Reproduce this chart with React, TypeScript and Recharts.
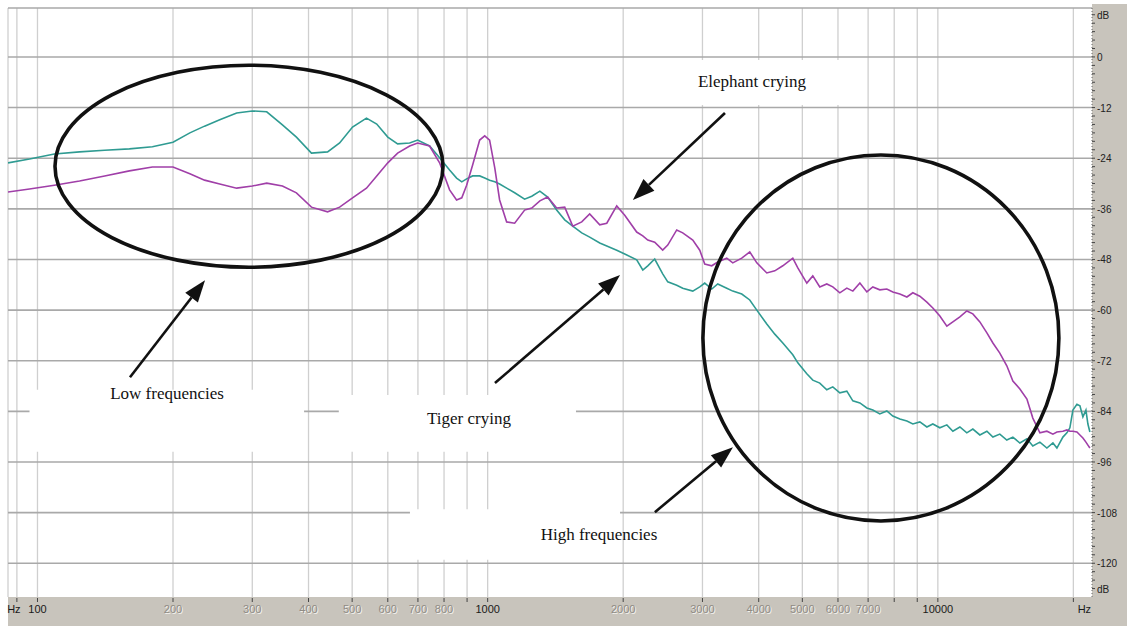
import {
    LineChart, Line, XAxis, YAxis, CartesianGrid,
    ReferenceArea, ReferenceDot, ReferenceLine
} from "recharts";

// frequency (Hz) of each sample
const freq = [
    86, 96, 109, 124, 141, 160, 180, 200, 218, 235,
    254, 277, 300, 323, 350, 376, 406, 441, 469, 501,
    538, 567, 600, 631, 671, 699, 743, 782, 823, 853,
    876, 898, 926, 960, 985, 1010, 1037, 1063, 1102, 1148,
    1208, 1253, 1306, 1359, 1423, 1483, 1545, 1618, 1685, 1774,
    1839, 1935, 2016, 2143, 2211, 2268, 2350, 2448, 2512, 2630,
    2712, 2855, 2959, 3035, 3146, 3244, 3397, 3503, 3668, 3821,
    3961, 4169, 4343, 4525, 4762, 4886, 5116, 5275, 5467, 5666,
    5843, 6057, 6278, 6474, 6711, 6955, 7171, 7431, 7703, 7943,
    8234, 8535, 8799, 9120, 9454, 9747, 10103, 10471, 10798, 11193,
    11597, 11960, 12397, 12851, 13253, 13729, 14229, 14678, 15214, 15770,
    16255, 16853, 17467, 18014, 18385, 18958, 19349, 19648, 19953, 20366,
    20682, 21000, 21327, 21544, 21765
];

// teal curve (dB)
const tiger = [
    -25.1, -24.2, -23.0, -22.5, -22.1, -21.8, -21.3, -20.2, -18.0, -16.4,
    -14.9, -13.3, -12.8, -13.0, -16.1, -19.0, -22.8, -22.5, -20.4, -16.6,
    -14.5, -15.9, -19.0, -20.6, -20.4, -19.7, -21.1, -23.9, -26.8, -28.7,
    -29.6, -28.9, -28.2, -28.2, -28.7, -29.2, -29.6, -30.1, -31.1, -32.2,
    -33.7, -33.0, -31.8, -33.2, -36.3, -38.6, -40.1, -41.7, -42.7, -44.1,
    -44.8, -45.8, -46.7, -48.1, -50.5, -49.5, -47.9, -51.4, -53.3, -54.1,
    -54.8, -55.5, -54.5, -53.6, -55.0, -53.8, -54.8, -55.5, -56.2, -57.6,
    -60.0, -63.3, -65.7, -67.8, -70.6, -72.5, -75.1, -76.6, -77.3, -78.9,
    -78.2, -79.6, -79.2, -81.5, -82.0, -83.2, -83.7, -84.6, -83.9, -85.1,
    -85.8, -86.3, -87.0, -86.5, -87.7, -87.0, -87.9, -87.2, -88.7, -87.7,
    -89.1, -88.2, -89.6, -88.7, -90.1, -89.4, -90.8, -90.1, -91.5, -90.5,
    -92.2, -91.3, -92.7, -91.5, -92.7, -90.1, -89.1, -87.9, -83.7, -82.3,
    -82.7, -85.3, -83.7, -87.0, -88.9
];

// purple curve (dB)
const elephant = [
    -32.0, -31.3, -30.4, -29.4, -28.2, -27.0, -26.1, -26.1, -27.7, -29.2,
    -30.1, -31.1, -30.6, -29.9, -30.6, -32.2, -35.6, -36.7, -35.6, -33.4,
    -31.1, -28.2, -25.1, -22.8, -21.1, -20.4, -21.1, -25.1, -31.5, -33.9,
    -33.4, -30.4, -25.6, -19.7, -18.7, -19.7, -26.3, -33.9, -39.1, -39.4,
    -36.3, -35.8, -34.1, -33.2, -35.8, -35.6, -40.1, -39.1, -37.2, -39.8,
    -39.4, -35.3, -37.5, -41.5, -42.4, -43.4, -43.9, -45.8, -44.6, -41.0,
    -41.7, -43.4, -45.8, -49.1, -49.5, -48.6, -47.7, -48.8, -47.7, -46.2,
    -48.8, -51.2, -50.7, -49.5, -47.7, -50.0, -53.6, -51.9, -54.5, -53.8,
    -54.5, -55.9, -54.8, -55.5, -53.6, -55.7, -54.5, -55.2, -55.0, -55.7,
    -56.2, -56.9, -55.9, -56.7, -58.1, -59.5, -61.4, -63.8, -62.8, -61.6,
    -60.2, -60.9, -62.8, -65.4, -67.8, -70.2, -73.2, -76.8, -78.7, -81.1,
    -85.6, -89.1, -88.7, -89.4, -88.9, -88.7, -88.4, -88.7, -88.7, -88.9,
    -89.6, -90.3, -91.3, -92.0, -92.7
];

const xTicks = [90, 100, 200, 300, 400, 500, 600, 700, 800, 900, 1000, 2000, 3000, 4000, 5000, 6000, 7000, 8000, 9000, 10000, 20000];
const xTickLabels: Record<number, string> = {
    90: "Hz", 100: "100", 200: "200", 300: "300", 400: "400", 500: "500", 600: "600", 700: "700", 800: "800",
    1000: "1000", 2000: "2000", 3000: "3000", 4000: "4000", 5000: "5000", 6000: "6000", 7000: "7000",
    10000: "10000", 20000: "Hz"
};
const darkLabels = [90, 100, 1000, 10000, 20000];
const dbGrid = [0, -12, -24, -36, -48, -60, -72, -84, -96, -108, -120];
const dbMinor = Array.from({ length: 69 }, (_, i) => 10 - i * 2);

// annotations, in data units (Hz, dB)
const notes = [
    { text: "Elephant crying", f: 3865, db: -5.9 },
    { text: "Low frequencies", f: 194, db: -79.7 },
    { text: "Tiger crying", f: 909, db: -85.6 },
    { text: "High frequencies", f: 1767, db: -113.3 },
];
const arrows = [
    { f1: 3366, db1: -13.3, f2: 2102, db2: -33.9 },
    { f1: 1038, db1: -77.3, f2: 1968, db2: -51.7 },
    { f1: 160.5, db1: -75.9, f2: 235.6, db2: -52.9 },
    { f1: 2352, db1: -107.9, f2: 3506, db2: -92.5 },
];
const whiteBoxes = [
    { f1: 96, f2: 391, db1: -78.9, db2: -93.6 },
    { f1: 467, f2: 1571, db1: -80.1, db2: -93.6 },
    { f1: 672, f2: 1968, db1: -107.2, db2: -119.2 },
    { f1: 2102, f2: 6958, db1: -0.7, db2: -11.4 },
];

const data = freq.map((f, i) => ({ f, tiger: tiger[i], elephant: elephant[i] }));

const GRAY = "#c8c4bc";
const sans = "'Liberation Sans', Arial, sans-serif";
const serif = "'Liberation Serif', 'Times New Roman', serif";

function FreqTick({ x, y, payload }: any) {
    const v = payload.value;
    const lab = xTickLabels[v];
    const dx = v === 20000 ? 11 : v === 90 ? -3 : 0;
    const dark = darkLabels.includes(v);
    return (
        <g>
            <line x1={x} x2={x} y1={y + 1} y2={y + 5} stroke="#444" strokeWidth={1} />
            {lab && dark && (
                <text x={x + dx} y={y + 16} textAnchor="middle" fontSize={11} fontFamily={sans} fill="#1a1a1a">{lab}</text>
            )}
            {lab && !dark && (
                <g>
                    <text x={x + 1} y={y + 17} textAnchor="middle" fontSize={11} fontFamily={sans} fill="#f4f2ee">{lab}</text>
                    <text x={x} y={y + 16} textAnchor="middle" fontSize={11} fontFamily={sans} fill="#8f8b84">{lab}</text>
                </g>
            )}
        </g>
    );
}

function DbTick({ x, y, payload }: any) {
    const v = payload.value;
    const lab = v === 10 || v === -126 ? "dB" : v % 12 === 0 ? String(v) : null;
    return (
        <g>
            <line x1={x} x2={x + 3} y1={y} y2={y} stroke="#444" strokeWidth={1} />
            {lab && <text x={x + 5} y={y + 4} fontSize={10} fontFamily={sans} fill="#222">{lab}</text>}
        </g>
    );
}

function Arrow(props: any) {
    const { x1, y1, x2, y2 } = props;
    const a = Math.atan2(y2 - y1, x2 - x1);
    const L = 22, W = 8;
    const bx = x2 - L * Math.cos(a), by = y2 - L * Math.sin(a);
    const px = -Math.sin(a) * W, py = Math.cos(a) * W;
    return (
        <g>
            <line x1={x1} y1={y1} x2={bx} y2={by} stroke="#111" strokeWidth={2.6} />
            <polygon points={`${x2},${y2} ${bx + px},${by + py} ${bx - px},${by - py}`} fill="#111" />
        </g>
    );
}

const ring = (rx: number, ry: number) => (p: any) => (
    <ellipse cx={p.cx} cy={p.cy} rx={rx} ry={ry} fill="none" stroke="#111" strokeWidth={3.6} />
);

const noteShape = (text: string) => (p: any) => (
    <text x={p.cx} y={p.cy} textAnchor="middle" dominantBaseline="central" fontSize={17} fontFamily={serif} fill="#111">{text}</text>
);

export default function App() {
    return (
        <div style={{ position: 'absolute', left: 0, top: 0, width: 1127, height: 626, background: 'white', overflow: 'hidden' }}>
            <div style={{ position: 'absolute', left: 8, top: 597, width: 1119, height: 29, background: GRAY }} />
            <div style={{ position: 'absolute', left: 1092, top: 4, width: 35, height: 622, background: GRAY }} />
            <div style={{ position: 'absolute', left: 0, top: 0 }}>
                <LineChart width={1127} height={626} data={data} margin={{ top: 8, right: 0, bottom: 0, left: 8 }}>
                    <CartesianGrid horizontal={false} verticalValues={[86, ...xTicks]} stroke="#cfcfcf" strokeWidth={1.3} />
                    <CartesianGrid vertical={false} horizontalValues={[11.6, ...dbGrid]} stroke="#a9a9a9" strokeWidth={1.6} />
                    <XAxis dataKey="f" type="number" scale="log" domain={[86, 22000]} allowDataOverflow
                        ticks={xTicks} interval={0} tick={<FreqTick />} tickLine={false} axisLine={false}
                        tickSize={0} tickMargin={0} height={29} />
                    <YAxis orientation="right" type="number" domain={[-128, 11.6]} allowDataOverflow
                        ticks={dbMinor} interval={0} tick={<DbTick />} tickLine={false}
                        axisLine={{ stroke: '#666', strokeDasharray: '1 2' }} tickSize={0} tickMargin={0} width={35} />
                    {whiteBoxes.map((b, i) => (
                        <ReferenceArea key={'b' + i} x1={b.f1} x2={b.f2} y1={b.db1} y2={b.db2} fill="#fff" fillOpacity={1} stroke="none" />
                    ))}
                    <Line dataKey="tiger" stroke="#2f9b92" strokeWidth={1.6} dot={false} isAnimationActive={false} />
                    <Line dataKey="elephant" stroke="#a03fa8" strokeWidth={1.6} dot={false} isAnimationActive={false} />
                    <ReferenceDot x={295} y={-25.9} shape={ring(194, 101)} />
                    <ReferenceDot x={7473} y={-66.6} shape={ring(178, 183)} />
                    {arrows.map((a, i) => (
                        <ReferenceLine key={'a' + i} segment={[{ x: a.f1, y: a.db1 }, { x: a.f2, y: a.db2 }]} shape={Arrow} />
                    ))}
                    {notes.map((n, i) => (
                        <ReferenceDot key={'n' + i} x={n.f} y={n.db} shape={noteShape(n.text)} />
                    ))}
                </LineChart>
            </div>
        </div>
    );
}
